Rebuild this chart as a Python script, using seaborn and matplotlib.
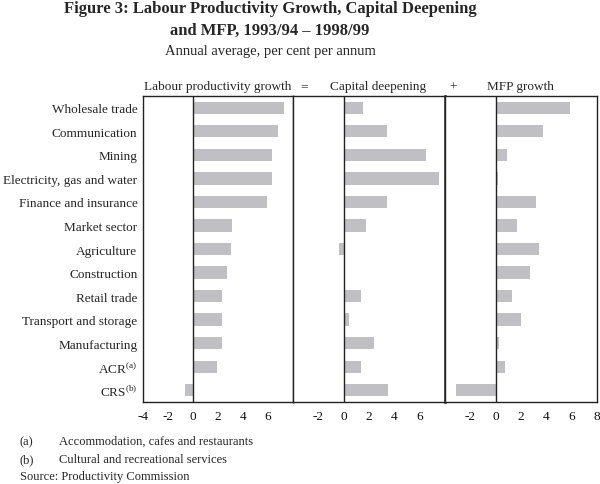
import matplotlib
matplotlib.use("Agg")
import matplotlib.pyplot as plt
import seaborn as sns
import numpy as np
import pandas as pd

categories = ["Wholesale trade", "Communication", "Mining", "Electricity, gas and water",
              "Finance and insurance", "Market sector", "Agriculture", "Construction",
              "Retail trade", "Transport and storage", "Manufacturing",
              "ACR$^{\\mathregular{(a)}}$", "CRS$^{\\mathregular{(b)}}$"]
labour_productivity = [7.3, 6.8, 6.3, 6.3, 5.95, 3.1, 3.05, 2.7, 2.35, 2.3, 2.3, 1.9, -0.65]
capital_deepening = [1.55, 3.4, 6.5, 7.5, 3.4, 1.8, -0.4, 0.0, 1.4, 0.4, 2.4, 1.4, 3.5]
mfp_growth = [5.85, 3.75, 0.9, 0.2, 3.2, 1.7, 3.4, 2.7, 1.3, 2.0, 0.3, 0.75, -3.15]

panel_titles = ["Labour productivity growth", "Capital deepening", "MFP growth"]
tick_values = [-4, -2, 0, 2, 4, 6, 8]
tick_label_sets = [
    ["-4", "-2", "0", "2", "4", "6", ""],
    ["", "-2", "0", "2", "4", "6", ""],
    ["", "-2", "0", "2", "4", "6", "8"],
]

sns.set_style("white")
plt.rcParams["font.family"] = ["Liberation Serif", "DejaVu Serif"]
plt.rcParams["mathtext.fontset"] = "custom"
plt.rcParams["mathtext.rm"] = "Liberation Serif"

W, H = 600, 485
fig = plt.figure(figsize=(6, 4.85), dpi=100)

def fx(px):
    return px / W

def fy(py):
    return 1 - py / H

bar_color = "#c0c0c4"
ax_top, ax_bot = 97, 403
edges = [143, 293, 445, 597]
series = [labour_productivity, capital_deepening, mfp_growth]
axes = []
for i in range(3):
    ax = fig.add_axes([fx(edges[i]), fy(ax_bot), fx(edges[i + 1] - edges[i]), (ax_bot - ax_top) / H])
    df = pd.DataFrame({"category": categories, "value": series[i]})
    sns.barplot(data=df, x="value", y="category", orient="h", color=bar_color,
                width=0.52, ax=ax, saturation=1, edgecolor="none")
    ax.set_xlim(-4, 8)
    ax.set_ylim(len(categories) - 0.5, -0.5)
    ax.axvline(0, color="#222222", lw=1.0, zorder=3)
    ax.set_xticks(tick_values)
    ax.set_xticklabels(tick_label_sets[i], fontsize=9.5)
    ax.tick_params(axis="x", direction="in", length=5, width=0.8, color="#222222", pad=6)
    ax.set_xlabel("")
    ax.set_ylabel("")
    for s in ax.spines.values():
        s.set_color("#222222")
        s.set_linewidth(1.0)
    if i == 0:
        ax.set_yticks(range(len(categories)))
        ax.set_yticklabels(categories, fontsize=9.5)
        ax.tick_params(axis="y", which="major", length=0, pad=4)
        ax.set_yticks(np.arange(0.5, len(categories) - 0.5, 1.0), minor=True)
        ax.tick_params(axis="y", which="minor", direction="in", length=5, width=0.8, color="#222222")
    else:
        ax.set_yticks([])
    if i == 1:
        ax.spines["right"].set_linewidth(1.8)
    ax.tick_params(axis="x", labelcolor="#111111")
    axes.append(ax)

# Panel headers
fig.text(fx(218), fy(87), panel_titles[0], ha="center", va="center", fontsize=9.5)
fig.text(fx(304), fy(87), "=", ha="center", va="center", fontsize=9.5)
fig.text(fx(378), fy(87), panel_titles[1], ha="center", va="center", fontsize=9.5)
fig.text(fx(453), fy(88), "+", ha="center", va="center", fontsize=9.5)
fig.text(fx(520), fy(87), panel_titles[2], ha="center", va="center", fontsize=9.5)

# Titles
cx = fx(270)
fig.text(cx, fy(9), "Figure 3: Labour Productivity Growth, Capital Deepening",
         ha="center", va="center", fontsize=12, fontweight="bold")
fig.text(cx, fy(31), "and MFP, 1993/94 \u2013 1998/99",
         ha="center", va="center", fontsize=12, fontweight="bold")
fig.text(cx, fy(51), "Annual average, per cent per annum", ha="center", va="center", fontsize=10.5)

# Footnotes
fig.text(fx(20), fy(442), "(a)", ha="left", va="center", fontsize=9)
fig.text(fx(59), fy(442), "Accommodation, cafes and restaurants", ha="left", va="center", fontsize=9)
fig.text(fx(20), fy(460), "(b)", ha="left", va="center", fontsize=9)
fig.text(fx(59), fy(460), "Cultural and recreational services", ha="left", va="center", fontsize=9)
fig.text(fx(20), fy(477), "Source: Productivity Commission", ha="left", va="center", fontsize=9)

fig.savefig("out.png", dpi=100)
